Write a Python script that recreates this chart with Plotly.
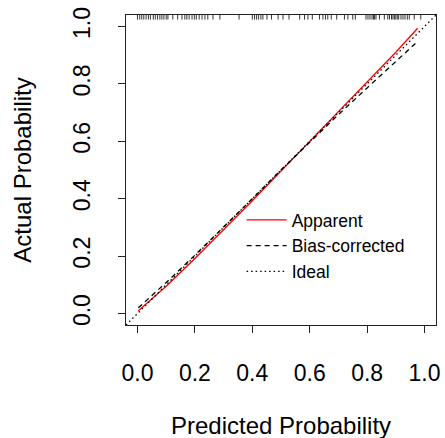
import plotly.graph_objects as go

# ---- data ----
apparent_x = [0.003, 0.1, 0.2, 0.3, 0.4, 0.5, 0.6, 0.7, 0.8, 0.9, 0.976]
apparent_y = [0.010, 0.095, 0.192, 0.292, 0.393, 0.496, 0.599, 0.702, 0.806, 0.910, 0.994]

bias_x = [0.003, 0.1, 0.2, 0.3, 0.4, 0.5, 0.6, 0.7, 0.8, 0.9, 0.976]
bias_y = [0.020, 0.108, 0.203, 0.300, 0.400, 0.500, 0.598, 0.693, 0.786, 0.877, 0.948]

rug_values = [
    0.0, 0.008, 0.015, 0.022, 0.03, 0.038, 0.045, 0.055, 0.062, 0.07, 0.078,
    0.085, 0.092, 0.1, 0.106, 0.123, 0.14,
    0.155, 0.165, 0.172, 0.18, 0.19, 0.198, 0.205, 0.215, 0.225, 0.235, 0.245,
    0.263, 0.287,
    0.354, 0.40, 0.408, 0.415, 0.422, 0.43, 0.437, 0.451, 0.467, 0.49, 0.507,
    0.528, 0.565, 0.582, 0.594, 0.609, 0.634, 0.646, 0.655, 0.663,
    0.675, 0.694, 0.721, 0.733, 0.75, 0.759,
    0.796, 0.803, 0.81, 0.817, 0.822, 0.826, 0.831, 0.843, 0.86,
    0.872, 0.878, 0.885, 0.89, 0.895, 0.9, 0.905, 0.91, 0.918,
    0.925, 0.932, 0.94, 0.947, 0.964, 0.987,
]

tick_vals = [0.0, 0.2, 0.4, 0.6, 0.8, 1.0]
tick_text = ["0.0", "0.2", "0.4", "0.6", "0.8", "1.0"]
axis_range = [-0.04, 1.04]
rug_len = 0.016

FONT = "Arial, Liberation Sans, sans-serif"

fig = go.Figure()

# rug along the top
rx, ry = [], []
for v in rug_values:
    rx += [v, v, None]
    ry += [axis_range[1], axis_range[1] - rug_len, None]
fig.add_trace(go.Scatter(x=rx, y=ry, mode="lines", line=dict(color="black", width=0.8),
                         showlegend=False, hoverinfo="skip"))

fig.add_trace(go.Scatter(x=apparent_x, y=apparent_y, mode="lines", name="Apparent",
                         line=dict(color="#FF0000", width=1.3)))
fig.add_trace(go.Scatter(x=bias_x, y=bias_y, mode="lines", name="Bias-corrected",
                         line=dict(color="black", width=1.3, dash="5px,4px")))
fig.add_trace(go.Scatter(x=axis_range, y=axis_range, mode="lines", name="Ideal",
                         line=dict(color="black", width=1.3, dash="1.5px,3px")))

axis_common = dict(
    range=axis_range, tickvals=tick_vals, ticktext=tick_text,
    showgrid=False, zeroline=False, showline=True, linecolor="#222222", linewidth=1.2,
    mirror=True, ticks="outside", ticklen=7, tickwidth=1.2, tickcolor="#222222",
    tickfont=dict(family=FONT, size=23, color="black"),
    automargin=False,
)

fig.update_layout(
    width=445, height=438,
    margin=dict(l=126, r=9, t=15, b=113),
    paper_bgcolor="white", plot_bgcolor="white",
    xaxis=dict(**axis_common, ticklabelstandoff=20),
    yaxis=dict(**axis_common, tickangle=-90, ticklabelstandoff=19,
               title=dict(text="Actual Probability", font=dict(family=FONT, size=24, color="black"),
                          standoff=30)),
    legend=dict(x=0.373, y=0.397, xanchor="left", yanchor="top",
                bgcolor="rgba(0,0,0,0)", borderwidth=0,
                font=dict(family=FONT, size=17.5, color="black"),
                itemwidth=40, tracegroupgap=0),
    showlegend=True,
    annotations=[dict(text="Predicted Probability", xref="paper", yref="paper",
                      x=0.5, y=-0.325, xanchor="center", yanchor="middle", showarrow=False,
                      font=dict(family=FONT, size=24, color="black"))],
)

fig.write_html("out.html")
